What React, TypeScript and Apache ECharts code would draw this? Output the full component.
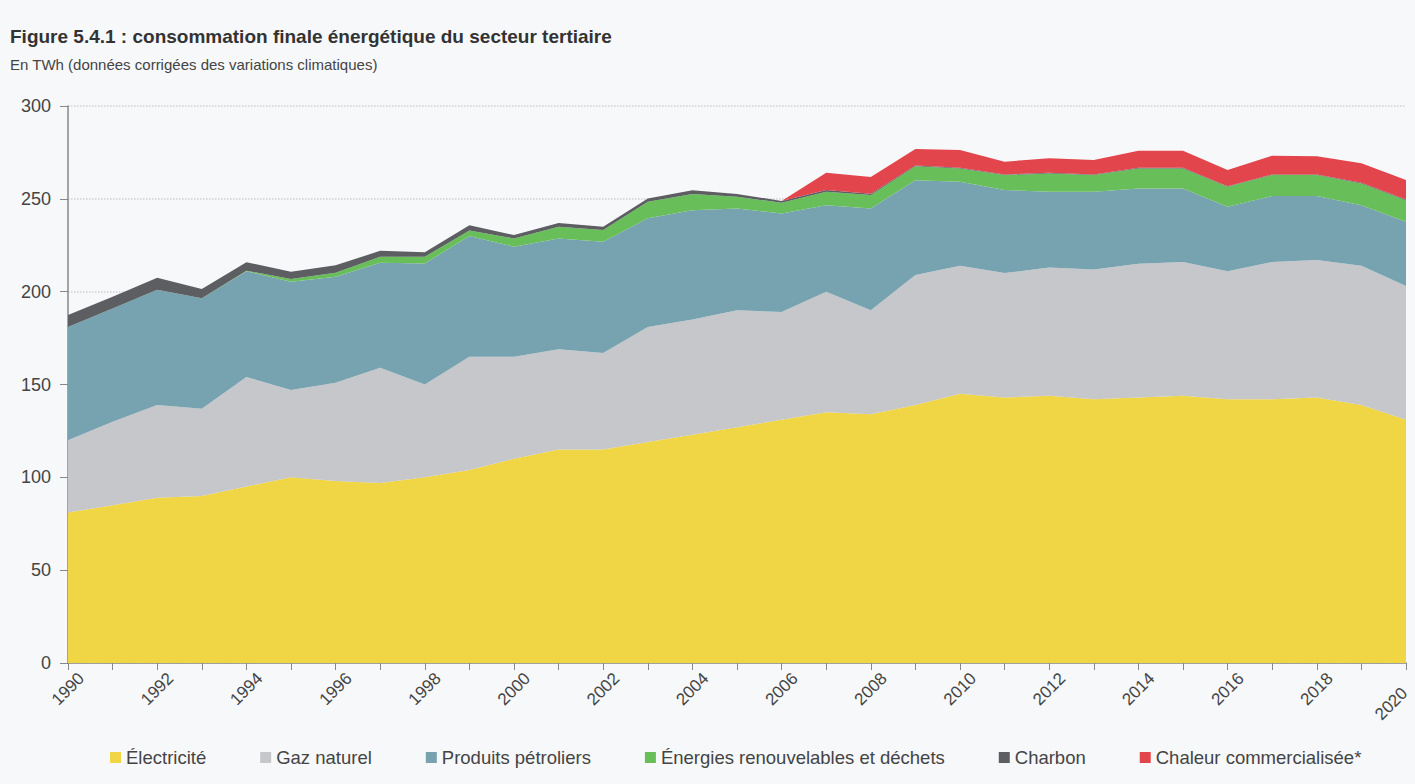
import React, { useEffect, useRef } from "react";
import * as echarts from "echarts";

const years = [
  "1990", "1991", "1992", "1993", "1994", "1995", "1996", "1997", "1998", "1999",
  "2000", "2001", "2002", "2003", "2004", "2005", "2006", "2007", "2008", "2009",
  "2010", "2011", "2012", "2013", "2014", "2015", "2016", "2017", "2018", "2019", "2020",
];

const electricite = [
  81, 85, 89, 90, 95, 100, 98, 97, 100, 104,
  110, 115, 115, 119, 123, 127, 131, 135, 134, 139,
  145, 143, 144, 142, 143, 144, 142, 142, 143, 139, 131,
];
const gazNaturel = [
  39, 45, 50, 47, 59, 47, 53, 62, 50, 61,
  55, 54, 52, 62, 62, 63, 58, 65, 56, 70,
  69, 67, 69, 70, 72, 72, 69, 74, 74, 75, 72,
];
const produitsPetroliers = [
  61, 61, 62, 59.4, 57, 58.3, 57, 56.6, 65.2, 65,
  59.2, 59.7, 59.9, 58.5, 58.9, 54.8, 53.1, 46.6, 54.8, 51,
  45.2, 44.7, 40.8, 41.8, 40.6, 39.6, 34.7, 35.5, 34.5, 32.6, 34.6,
];
const renouvelables = [
  0, 0, 0, 0, 0.3, 1.5, 2.2, 3.2, 3.6, 3,
  4.5, 6.3, 6.3, 8.9, 8.7, 6.3, 5.8, 7.2, 7.2, 7.5,
  7.2, 8.1, 9.9, 9, 10.8, 10.8, 10.8, 11.3, 11.3, 11.7, 11.7,
];
const charbon = [
  6.5, 6.3, 6.5, 5, 4.6, 3.9, 4, 3.2, 2.4, 2.8,
  1.8, 2, 1.8, 1.8, 2, 1.5, 1, 1, 0.8, 0.4,
  0.3, 0.3, 0.3, 0.3, 0.3, 0.3, 0.3, 0.3, 0.3, 0.3, 0.3,
];
const chaleur = [
  0, 0, 0, 0, 0, 0, 0, 0, 0, 0,
  0, 0, 0, 0, 0, 0, 0, 9.3, 8.9, 9,
  9.6, 6.9, 7.8, 7.8, 9.2, 9.2, 8.7, 10.1, 9.9, 10.5, 10.5,
];

const seriesNames = [
  "Électricité",
  "Gaz naturel",
  "Produits pétroliers",
  "Énergies renouvelables et déchets",
  "Charbon",
  "Chaleur commercialisée*",
];
const seriesData = [electricite, gazNaturel, produitsPetroliers, renouvelables, charbon, chaleur];
const colors = ["#f0d545", "#c6c7ca", "#77a3b1", "#68bf5a", "#5d5e61", "#e2454b"];

const FONT = "'Liberation Sans', Arial, Helvetica, sans-serif";

export default function App() {
  const ref = useRef<HTMLDivElement>(null);

  useEffect(() => {
    if (!ref.current) return;
    const chart = echarts.init(ref.current, null, { renderer: "svg" });
    const lastIdx = years.length - 1;
    const categoryData = years.map((y, i) =>
      i === lastIdx
        ? { value: y, textStyle: { align: "right", verticalAlign: "middle", padding: [0, 2, 0, 0] } }
        : y
    );
    chart.setOption({
      animation: false,
      backgroundColor: "#f7f8fa",
      textStyle: { fontFamily: FONT },
      title: {
        text: "Figure 5.4.1 : consommation finale énergétique du secteur tertiaire",
        subtext: "En TWh (données corrigées des variations climatiques)",
        left: 5,
        top: 22,
        itemGap: 11,
        textStyle: { fontFamily: FONT, fontSize: 19, fontWeight: "bold", color: "#333" },
        subtextStyle: { fontFamily: FONT, fontSize: 15, color: "#444" },
      },
      legend: {
        bottom: 12,
        left: 105,
        itemWidth: 11,
        itemHeight: 11,
        itemGap: 54,
        icon: "rect",
        textStyle: { fontFamily: FONT, fontSize: 18.5, color: "#444" },
        data: seriesNames,
      },
      grid: {
        left: 68,
        right: 9,
        top: 106,
        bottom: 121,
        containLabel: false,
        outerBoundsMode: "none",
      },
      xAxis: {
        type: "category",
        data: categoryData,
        boundaryGap: false,
        axisLine: { lineStyle: { color: "#888", width: 1.5 } },
        axisTick: { show: true, interval: 0, length: 7, lineStyle: { color: "#888" } },
        axisLabel: {
          interval: 1,
          rotate: 45,
          fontSize: 17,
          color: "#444",
          fontFamily: FONT,
          align: "center",
          verticalAlign: "middle",
          margin: 26,
        },
        splitLine: { show: false },
      },
      yAxis: {
        type: "value",
        min: 0,
        max: 300,
        interval: 50,
        axisLine: { show: true, lineStyle: { color: "#888", width: 1.5 } },
        axisTick: { show: true, length: 8, lineStyle: { color: "#888" } },
        axisLabel: { fontSize: 18, color: "#444", fontFamily: FONT, margin: 17 },
        splitLine: { show: true, lineStyle: { color: "#cfd0d3", type: "dotted", width: 1.5 } },
      },
      series: seriesNames.map((name, i) => ({
        name,
        type: "line",
        stack: "total",
        data: seriesData[i],
        showSymbol: false,
        symbol: "none",
        lineStyle: { width: 0 },
        areaStyle: { color: colors[i], opacity: 1 },
        itemStyle: { color: colors[i] },
        z: 2,
      })),
    });
    return () => chart.dispose();
  }, []);

  return (
    <div
      ref={ref}
      style={{ position: "fixed", left: 0, top: 0, width: 1415, height: 784 }}
    />
  );
}
